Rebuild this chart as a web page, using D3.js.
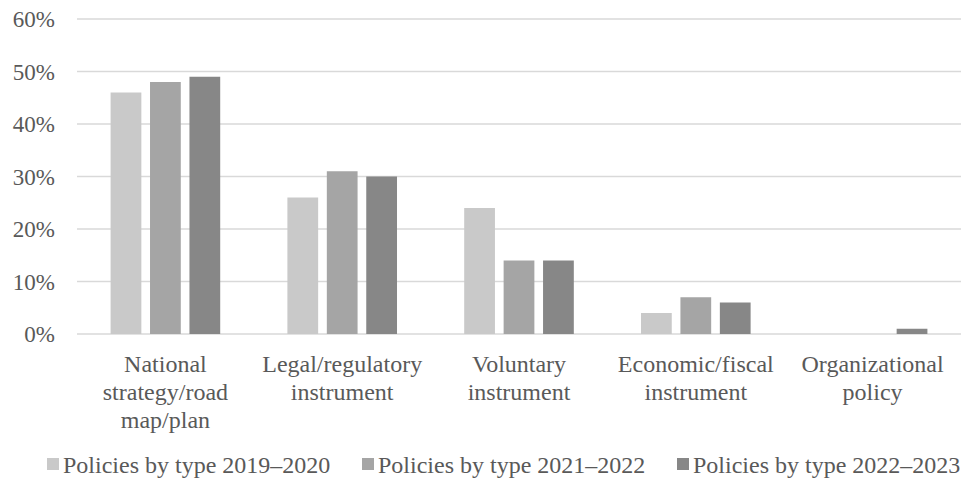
<!DOCTYPE html>
<html>
<head>
<meta charset="utf-8">
<script src="https://cdn.jsdelivr.net/npm/d3@7"></script>
<style>
  html, body { margin: 0; padding: 0; background: #ffffff; }
  svg { display: block; }
  text { font-family: "Liberation Serif", "Times New Roman", serif; fill: #595959; }
</style>
</head>
<body>
<svg id="chart" width="962" height="479"></svg>
<script>
// Policy types (line breaks mark the wrapped axis labels)
const categories = [
  "National\nstrategy/road\nmap/plan",
  "Legal/regulatory\ninstrument",
  "Voluntary\ninstrument",
  "Economic/fiscal\ninstrument",
  "Organizational\npolicy"
];
const seriesNames = [
  "Policies by type 2019\u20132020",
  "Policies by type 2021\u20132022",
  "Policies by type 2022\u20132023"
];
const values2019_2020 = [0.46, 0.26, 0.24, 0.04, 0.00];
const values2021_2022 = [0.48, 0.31, 0.14, 0.07, 0.00];
const values2022_2023 = [0.49, 0.30, 0.14, 0.06, 0.01];
const seriesValues = [values2019_2020, values2021_2022, values2022_2023];
const yTicks = [0, 0.1, 0.2, 0.3, 0.4, 0.5, 0.6];
const colors = ["#c9c9c9", "#a5a5a5", "#878787"];

const svg = d3.select("#chart");
const plot = { left: 77, right: 961, top: 19, bottom: 334 };

const x0 = d3.scaleBand()
  .domain(categories)
  .range([plot.left, plot.right])
  .paddingInner(0.38)
  .paddingOuter(0.19);

const x1 = d3.scaleBand()
  .domain(d3.range(seriesNames.length))
  .range([0, x0.bandwidth()])
  .paddingInner(0.22);

const y = d3.scaleLinear()
  .domain([0, 0.6])
  .range([plot.bottom, plot.top]);

// Horizontal gridlines
svg.append("g")
  .selectAll("line")
  .data(yTicks)
  .join("line")
  .attr("x1", plot.left)
  .attr("x2", plot.right)
  .attr("y1", d => y(d))
  .attr("y2", d => y(d))
  .attr("stroke", "#d9d9d9")
  .attr("stroke-width", 1.6);

// Y axis labels
const yAxis = svg.append("g")
  .attr("transform", `translate(${plot.left - 22},0)`)
  .call(d3.axisLeft(y).tickValues(yTicks).tickSize(0).tickPadding(0).tickFormat(d3.format(".0%")));
yAxis.select(".domain").remove();
yAxis.selectAll("text")
  .attr("font-size", 23)
  .attr("font-family", "Liberation Serif, serif")
  .attr("fill", "#595959")
  .attr("dy", "0.34em");

// Bars
const groups = svg.append("g")
  .selectAll("g")
  .data(categories)
  .join("g")
  .attr("transform", d => `translate(${x0(d)},0)`);

groups.selectAll("rect")
  .data((d, i) => seriesValues.map((vals, s) => ({ s, v: vals[i] })))
  .join("rect")
  .attr("x", d => x1(d.s))
  .attr("width", x1.bandwidth())
  .attr("y", d => y(d.v))
  .attr("height", d => y(0) - y(d.v))
  .attr("fill", d => colors[d.s]);

// Category labels
const xAxis = svg.append("g")
  .attr("transform", `translate(0,${plot.bottom})`)
  .call(d3.axisBottom(x0).tickSize(0).tickFormat(""));
xAxis.select(".domain").remove();

const lineHeight = 28;
svg.append("g")
  .selectAll("text")
  .data(categories)
  .join("text")
  .attr("text-anchor", "middle")
  .attr("font-size", 24)
  .attr("x", d => x0(d) + x0.bandwidth() / 2)
  .attr("y", 372)
  .each(function(d) {
    const t = d3.select(this);
    d.split("\n").forEach((line, i) => {
      t.append("tspan")
        .attr("x", x0(d) + x0.bandwidth() / 2)
        .attr("dy", i === 0 ? 0 : lineHeight)
        .text(line);
    });
  });

// Legend
const legendX = [47, 362, 677];
const legend = svg.append("g")
  .selectAll("g")
  .data(seriesNames)
  .join("g")
  .attr("transform", (d, i) => `translate(${legendX[i]},0)`);
legend.append("rect")
  .attr("x", 0)
  .attr("y", 458)
  .attr("width", 12)
  .attr("height", 12)
  .attr("fill", (d, i) => colors[i]);
legend.append("text")
  .attr("x", 16)
  .attr("y", 473)
  .attr("font-size", 24)
  .text(d => d);
</script>
</body>
</html>
